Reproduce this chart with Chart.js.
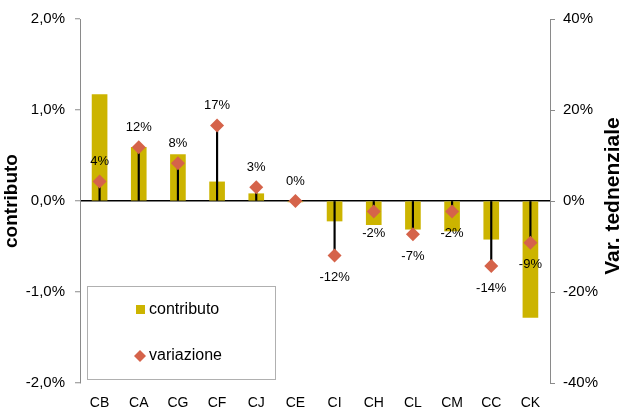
<!DOCTYPE html>
<html>
<head>
<meta charset="utf-8">
<script src="https://cdn.jsdelivr.net/npm/chart.js@4/dist/chart.umd.min.js"></script>
<style>
  html, body { margin: 0; padding: 0; background: #fff; }
  #wrap { width: 623px; height: 412px; }
</style>
</head>
<body>
<div id="wrap"><canvas id="myChart"></canvas></div>
<script>
// DATA

const categories = ["CB", "CA", "CG", "CF", "CJ", "CE", "CI", "CH", "CL", "CM", "CC", "CK"];
const contributo = [1.17, 0.59, 0.51, 0.21, 0.08, -0.01, -0.22, -0.26, -0.31, -0.33, -0.42, -1.28];
const variazione = [4.3, 11.8, 8.3, 16.6, 3.0, 0, -12.0, -2.3, -7.3, -2.3, -14.3, -9.2];
const leftTicks = [-2, -1, 0, 1, 2];
const rightTicks = [-40, -20, 0, 20, 40];

const yellow = "#CCB400";
const orange = "#D5634A";
const font = "'Liberation Sans', Arial, sans-serif";

// labels over / under the diamonds
const pointLabels = {
  id: "pointLabels",
  afterDatasetsDraw(chart) {
    const ctx = chart.ctx;
    const meta = chart.getDatasetMeta(2);
    ctx.save();
    ctx.font = "13px " + font;
    ctx.fillStyle = "#000";
    ctx.textAlign = "center";
    ctx.textBaseline = "middle";
    meta.data.forEach((pt, i) => {
      const v = variazione[i];
      const dy = v >= 0 ? -20 : 22;
      ctx.fillText(Math.round(v) + "%", pt.x, pt.y + dy);
    });
    ctx.restore();
  },
};

// right axis title, reading bottom to top like the left one
const rightTitle = {
  id: "rightTitle",
  afterDraw(chart) {
    const ctx = chart.ctx;
    ctx.save();
    ctx.translate(613, 196);
    ctx.rotate(-Math.PI / 2);
    ctx.font = "bold 21px " + font;
    ctx.fillStyle = "#000";
    ctx.textAlign = "center";
    ctx.textBaseline = "middle";
    ctx.fillText("Var. tednenziale", 0, 0);
    ctx.restore();
  },
};

// legend box inside the plot
const boxLegend = {
  id: "boxLegend",
  afterDraw(chart) {
    const ctx = chart.ctx;
    ctx.save();
    ctx.strokeStyle = "#b0b0b0";
    ctx.lineWidth = 1;
    ctx.strokeRect(87.5, 286.5, 188, 93);
    ctx.fillStyle = yellow;
    ctx.fillRect(136, 305, 9, 9);
    ctx.fillStyle = orange;
    ctx.beginPath();
    ctx.moveTo(140, 350);
    ctx.lineTo(146, 356);
    ctx.lineTo(140, 362);
    ctx.lineTo(134, 356);
    ctx.closePath();
    ctx.fill();
    ctx.fillStyle = "#000";
    ctx.font = "16px " + font;
    ctx.textBaseline = "middle";
    ctx.fillText("contributo", 149, 310);
    ctx.fillText("variazione", 149, 356);
    ctx.restore();
  },
};

const ctxOne = document.getElementById("myChart");

new Chart(ctxOne, {
  type: "bar",
  data: {
    labels: categories,
    datasets: [
      {
        label: "contributo",
        data: contributo,
        backgroundColor: yellow,
        yAxisID: "y",
        barThickness: 15,
        grouped: false,
        order: 3,
      },
      {
        label: "linee",
        data: variazione.map((v) => [0, v]),
        backgroundColor: "#000",
        yAxisID: "y2",
        barThickness: 1.5,
        grouped: false,
        order: 2,
      },
      {
        type: "line",
        label: "variazione",
        data: variazione,
        yAxisID: "y2",
        showLine: false,
        pointStyle: "rectRot",
        pointRadius: 7,
        pointBackgroundColor: orange,
        pointBorderColor: orange,
        borderWidth: 0,
        order: 1,
      },
    ],
  },
  plugins: [pointLabels, rightTitle, boxLegend],
  options: {
    responsive: true,
    maintainAspectRatio: false,
    animation: false,
    layout: {
      padding: { top: 17, bottom: 0, left: 0, right: 0 },
    },
    plugins: {
      legend: { display: false },
      tooltip: { enabled: false },
    },
    scales: {
      x: {
        grid: { display: false, drawTicks: false },
        border: { display: false },
        ticks: { color: "#000", font: { family: font, size: 14 }, padding: 12 },
        afterFit(scale) {
          scale.height = 29;
        },
      },
      y: {
        position: "left",
        min: -2,
        max: 2,
        afterBuildTicks(scale) {
          scale.ticks = leftTicks.map((v) => ({ value: v }));
        },
        grid: {
          color: (c) => (c.tick && c.tick.value === 0 ? "#000" : "transparent"),
          lineWidth: 1.5,
          tickColor: "#8a8a8a",
          tickLength: 5,
          tickWidth: 1,
        },
        border: { display: true, color: "#8a8a8a", width: 1 },
        ticks: {
          color: "#000",
          font: { family: font, size: 15 },
          padding: 10,
          callback: (v) => v.toFixed(1).replace(".", ",") + "%",
        },
        title: {
          display: true,
          text: "contributo",
          color: "#000",
          font: { family: font, size: 19, weight: "bold" },
          padding: 0,
        },
        afterFit(scale) {
          scale.width = 80;
        },
      },
      y2: {
        position: "right",
        min: -40,
        max: 40,
        afterBuildTicks(scale) {
          scale.ticks = rightTicks.map((v) => ({ value: v }));
        },
        grid: {
          drawOnChartArea: false,
          tickColor: "#8a8a8a",
          tickLength: 5,
        },
        border: { display: true, color: "#8a8a8a", width: 1 },
        ticks: {
          color: "#000",
          font: { family: font, size: 15 },
          padding: 8,
          callback: (v) => v + "%",
        },
        afterFit(scale) {
          scale.width = 73;
        },
      },
    },
  },
});
</script>
</body>
</html>
